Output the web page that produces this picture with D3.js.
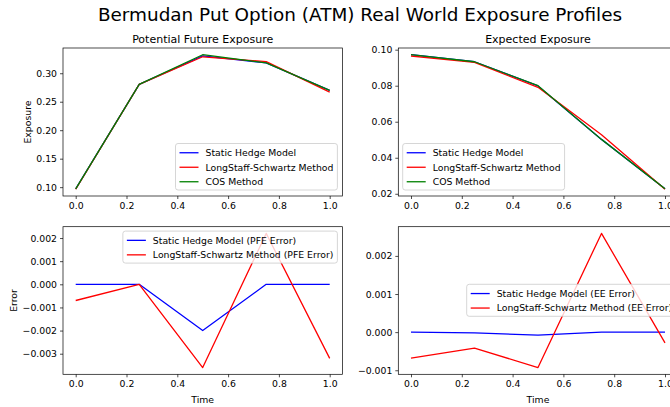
<!DOCTYPE html>
<html>
<head>
<meta charset="utf-8">
<script src="https://cdn.jsdelivr.net/npm/d3@7"></script>
<style>
  body { margin: 0; background: #fff; }
  svg { font-family: "DejaVu Sans", sans-serif; }
</style>
</head>
<body>
<svg id="chart" width="670" height="407"></svg>
<script>
const times = [0, 0.25, 0.5, 0.75, 1.0];

// Potential future exposure
const pfeStatic = [0.0970, 0.2805, 0.3305, 0.3182, 0.2700];
const pfeLsm    = [0.0963, 0.2805, 0.3289, 0.3204, 0.2668];
const pfeCos    = [0.0970, 0.2805, 0.3325, 0.3182, 0.2700];

// Expected exposure
const eeStatic = [0.0972, 0.0933, 0.0799, 0.0502, 0.0228];
const eeLsm    = [0.0965, 0.0929, 0.0791, 0.0528, 0.0225];
const eeCos    = [0.0972, 0.0933, 0.0800, 0.0502, 0.0228];

// errors vs COS
const pfeStaticErr = [0, 0, -0.0020, 0, 0];
const pfeLsmErr    = [-0.0007, 0, -0.0036, 0.0022, -0.0032];
const eeStaticErr  = [0, -0.00002, -0.00008, 0, 0];
const eeLsmErr     = [-0.00068, -0.00042, -0.00093, 0.00259, -0.00028];

const xTicks = [0, 0.2, 0.4, 0.6, 0.8, 1.0];
const pfeTicks = [0.10, 0.15, 0.20, 0.25, 0.30];
const eeTicks = [0.02, 0.04, 0.06, 0.08, 0.10];
const pfeErrTicks = [-0.003, -0.002, -0.001, 0, 0.001, 0.002];
const eeErrTicks = [-0.001, 0, 0.001, 0.002];

const BLUE = "#0000ff", RED = "#ff0000", GREEN = "#008000";
const FS = 9.3;

const svg = d3.select("#chart");

svg.append("text")
  .attr("x", 360).attr("y", 21)
  .attr("text-anchor", "middle")
  .style("font-size", "18.4px")
  .text("Bermudan Put Option (ATM) Real World Exposure Profiles");

const minus = s => s.replace("-", "\u2212");

function measure(txt, size) {
  const t = svg.append("text").style("font-size", size + "px").text(txt);
  const w = t.node().getComputedTextLength();
  t.remove();
  return w;
}

function panel(opt) {
  const { left, top, width, height } = opt;
  const all = opt.series.flatMap(s => s.values);
  const lo = d3.min(all), hi = d3.max(all), m = (hi - lo) * 0.05;

  const x = d3.scaleLinear().domain([-0.05, 1.05]).range([left, left + width]);
  const y = d3.scaleLinear().domain([lo - m, hi + m]).range([top + height, top]);

  const g = svg.append("g");

  const clipId = "clip" + Math.round(left) + "_" + Math.round(top);
  g.append("clipPath").attr("id", clipId)
    .append("rect").attr("x", left).attr("y", top).attr("width", width).attr("height", height);

  const line = d3.line().x((d, i) => x(times[i])).y(d => y(d));
  const lines = g.append("g").attr("clip-path", `url(#${clipId})`);
  opt.series.forEach(s => {
    lines.append("path")
      .attr("d", line(s.values))
      .attr("fill", "none")
      .attr("stroke", s.color)
      .attr("stroke-width", 1.3)
      .attr("stroke-linejoin", "round");
  });

  // axes
  const xAxis = g.append("g")
    .attr("transform", `translate(0,${top + height})`)
    .call(d3.axisBottom(x).tickValues(xTicks).tickFormat(d3.format(".1f")).tickSize(3).tickPadding(3));
  const yAxis = g.append("g")
    .attr("transform", `translate(${left},0)`)
    .call(d3.axisLeft(y).tickValues(opt.yTicks).tickFormat(d => minus(d3.format(opt.yFmt)(d))).tickSize(3).tickPadding(3));
  [xAxis, yAxis].forEach(a => {
    a.select(".domain").remove();
    a.selectAll(".tick line").attr("stroke", "#000").attr("stroke-width", 0.7);
    a.selectAll(".tick text").style("font-size", FS + "px").attr("fill", "#000")
      .style("font-family", "DejaVu Sans");
  });

  g.append("rect")
    .attr("x", left).attr("y", top).attr("width", width).attr("height", height)
    .attr("fill", "none").attr("stroke", "#000").attr("stroke-width", 0.7);

  if (opt.title) {
    g.append("text")
      .attr("x", left + width / 2).attr("y", top - 5.5)
      .attr("text-anchor", "middle")
      .style("font-size", "11px")
      .text(opt.title);
  }
  if (opt.xLabel) {
    g.append("text")
      .attr("x", left + width / 2).attr("y", top + height + 28.5)
      .attr("text-anchor", "middle")
      .style("font-size", FS + "px")
      .text(opt.xLabel);
  }
  if (opt.yLabel) {
    g.append("text")
      .attr("transform", `translate(${opt.yLabelX},${top + height / 2}) rotate(-90)`)
      .attr("text-anchor", "middle")
      .style("font-size", FS + "px")
      .text(opt.yLabel);
  }

  // legend
  const L = opt.legend;
  const rowH = 14.5;
  const tw = d3.max(opt.series, s => measure(s.label, FS));
  const lw = 4 + 19 + 7 + tw + 4;
  const lh = opt.series.length * rowH + 3;
  let lx, ly;
  if (L.pos === "lower right") { lx = left + width - 5 - lw; ly = top + height - 6 - lh; }
  else if (L.pos === "lower left") { lx = left + 4.4; ly = top + height - 6 - lh; }
  else if (L.pos === "upper right") { lx = left + width - 5 - lw; ly = top + 4.4; }
  else { lx = L.x; ly = L.y; }

  const lg = g.append("g").attr("transform", `translate(${lx},${ly})`);
  lg.append("rect")
    .attr("width", lw).attr("height", lh).attr("rx", 2.5)
    .attr("fill", "#fff").attr("fill-opacity", 0.8)
    .attr("stroke", "#cccccc").attr("stroke-width", 0.8);
  opt.series.forEach((s, i) => {
    const cy = 1.5 + rowH * i + rowH / 2 + 0.5;
    lg.append("line")
      .attr("x1", 4).attr("x2", 4 + 19).attr("y1", cy).attr("y2", cy)
      .attr("stroke", s.color).attr("stroke-width", 1.3);
    lg.append("text")
      .attr("x", 4 + 19 + 7).attr("y", cy).attr("dy", "0.35em")
      .style("font-size", FS + "px")
      .text(s.label);
  });
}

const W = 279.4;

panel({
  left: 63, top: 48, width: W, height: 148,
  title: "Potential Future Exposure", yLabel: "Exposure", yLabelX: 31,
  yTicks: pfeTicks, yFmt: ".2f",
  legend: { pos: "lower right" },
  series: [
    { values: pfeStatic, color: BLUE, label: "Static Hedge Model" },
    { values: pfeLsm, color: RED, label: "LongStaff-Schwartz Method" },
    { values: pfeCos, color: GREEN, label: "COS Method" }
  ]
});

panel({
  left: 398.3, top: 48, width: W, height: 148,
  title: "Expected Exposure",
  yTicks: eeTicks, yFmt: ".2f",
  legend: { pos: "lower left" },
  series: [
    { values: eeStatic, color: BLUE, label: "Static Hedge Model" },
    { values: eeLsm, color: RED, label: "LongStaff-Schwartz Method" },
    { values: eeCos, color: GREEN, label: "COS Method" }
  ]
});

panel({
  left: 63, top: 226.7, width: W, height: 147.6,
  xLabel: "Time", yLabel: "Error", yLabelX: 17,
  yTicks: pfeErrTicks, yFmt: ".3f",
  legend: { pos: "upper right" },
  series: [
    { values: pfeStaticErr, color: BLUE, label: "Static Hedge Model (PFE Error)" },
    { values: pfeLsmErr, color: RED, label: "LongStaff-Schwartz Method (PFE Error)" }
  ]
});

panel({
  left: 398.3, top: 226.7, width: W, height: 147.6,
  xLabel: "Time",
  yTicks: eeErrTicks, yFmt: ".3f",
  legend: { pos: "custom", x: 466.7, y: 284.3 },
  series: [
    { values: eeStaticErr, color: BLUE, label: "Static Hedge Model (EE Error)" },
    { values: eeLsmErr, color: RED, label: "LongStaff-Schwartz Method (EE Error)" }
  ]
});
</script>
</body>
</html>
